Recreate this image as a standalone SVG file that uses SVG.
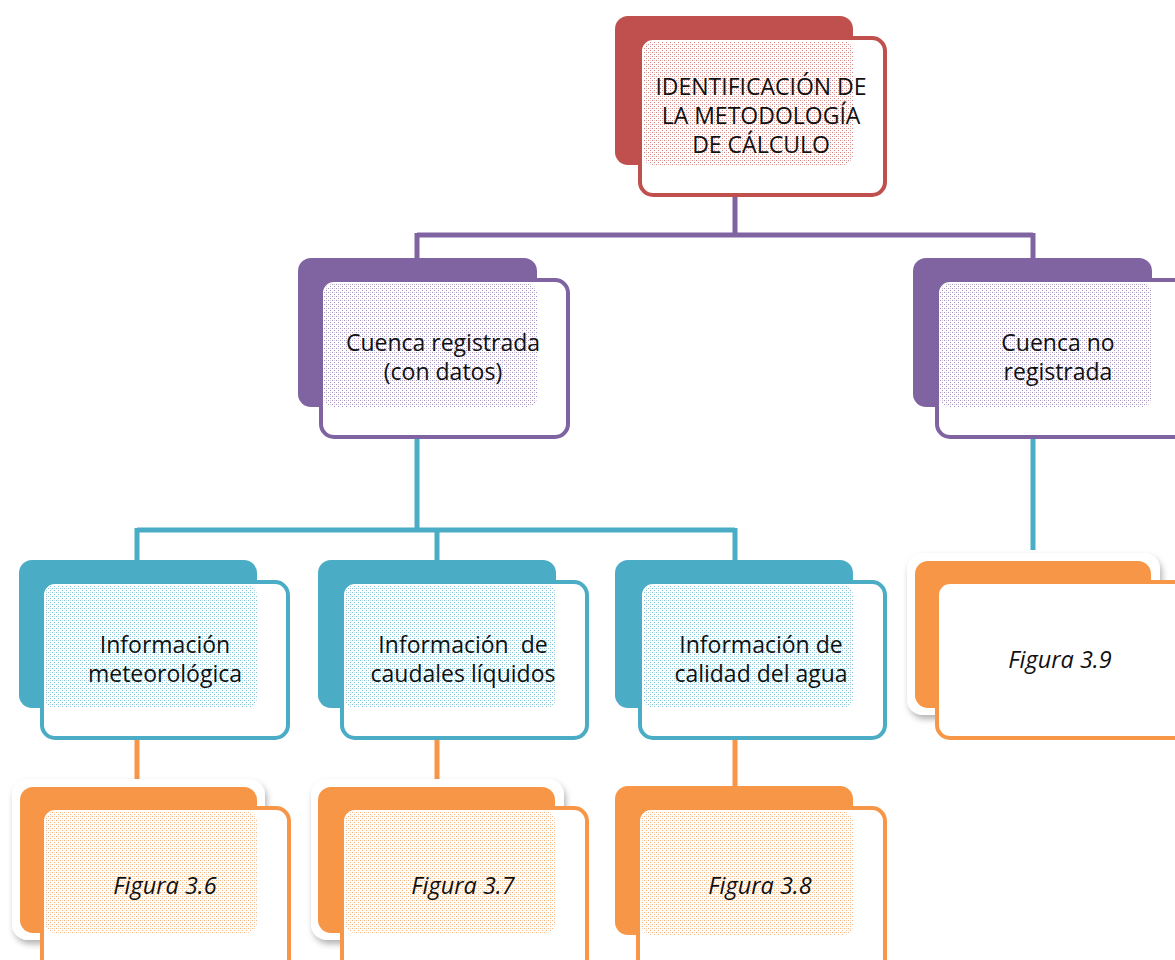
<svg xmlns="http://www.w3.org/2000/svg" width="1175" height="960" viewBox="0 0 1175 960">
<defs>
<style>
.t{font-family:"Open Sans","Liberation Sans",sans-serif;font-size:23px;fill:#111;text-anchor:middle}
.i{font-style:italic;font-size:23.5px}
.front{fill:#fff;stroke-width:4}
.conn{fill:none;stroke-width:5}
.faint{fill:none;stroke-width:3;opacity:0.35;stroke-dasharray:2 2}
</style>
<pattern id="pr" width="4" height="4" patternUnits="userSpaceOnUse"><rect width="4" height="4" fill="#fff"/><rect x="0" y="0" width="1" height="1" fill="#C0504D" opacity="0.7"/><rect x="2" y="2" width="1" height="1" fill="#C0504D" opacity="0.7"/><rect x="2" y="0" width="1" height="1" fill="#C0504D" opacity="0.35"/></pattern>
<pattern id="pp" width="4" height="4" patternUnits="userSpaceOnUse"><rect width="4" height="4" fill="#fff"/><rect x="0" y="0" width="1" height="1" fill="#8064A2" opacity="0.7"/><rect x="2" y="2" width="1" height="1" fill="#8064A2" opacity="0.7"/><rect x="2" y="0" width="1" height="1" fill="#8064A2" opacity="0.35"/></pattern>
<pattern id="pt" width="4" height="4" patternUnits="userSpaceOnUse"><rect width="4" height="4" fill="#fff"/><rect x="0" y="0" width="1" height="1" fill="#4BACC6" opacity="0.7"/><rect x="2" y="2" width="1" height="1" fill="#4BACC6" opacity="0.7"/><rect x="2" y="0" width="1" height="1" fill="#4BACC6" opacity="0.35"/></pattern>
<pattern id="po" width="4" height="4" patternUnits="userSpaceOnUse"><rect width="4" height="4" fill="#fff"/><rect x="0" y="0" width="1" height="1" fill="#F79646" opacity="0.7"/><rect x="2" y="2" width="1" height="1" fill="#F79646" opacity="0.7"/><rect x="2" y="0" width="1" height="1" fill="#F79646" opacity="0.35"/></pattern>
<filter id="sh" x="-10%" y="-10%" width="120%" height="130%"><feDropShadow dx="2" dy="4" stdDeviation="3" flood-color="#000" flood-opacity="0.3"/></filter>
</defs>
<rect width="1175" height="960" fill="#fff"/>

<g id="connectors">
<path class="conn" stroke="#8064A2" d="M735 195V235M417 235H1033M417 233V258M1033 233V258"/>
<path class="conn" stroke="#4BACC6" d="M417 438V530M137 530H735M137 528V560M437 528V560M735 528V560M1033 438V550"/>
<path class="conn" stroke="#F79646" d="M137 738V779M437 738V779M735 738V786"/>
<path class="faint" stroke="#8064A2" d="M735 168V193"/>
<path class="faint" stroke="#4BACC6" d="M417 410V436M1033 410V436"/>
<path class="faint" stroke="#F79646" d="M137 710V736M437 710V736M735 710V736"/>
</g>

<g id="n-top">
<rect x="615" y="16" width="238" height="149" rx="13" fill="#C0504D"/>
<rect class="front" x="640" y="38" width="245" height="157" rx="13" stroke="#C0504D"/>
<rect x="643" y="41" width="210" height="124" rx="10" fill="url(#pr)"/>
<text class="t" x="761" y="95">IDENTIFICACIÓN DE</text>
<text class="t" x="761" y="124">LA METODOLOGÍA</text>
<text class="t" x="761" y="153">DE CÁLCULO</text>
</g>

<g id="n-cuenca-reg">
<rect x="298" y="258" width="239" height="149" rx="13" fill="#8064A2"/>
<rect class="front" x="321" y="280" width="247" height="157" rx="13" stroke="#8064A2"/>
<rect x="324" y="283" width="213" height="124" rx="10" fill="url(#pp)"/>
<text class="t" x="443" y="351">Cuenca registrada</text>
<text class="t" x="443" y="380">(con datos)</text>
</g>

<g id="n-cuenca-noreg">
<rect x="913" y="258" width="239" height="149" rx="13" fill="#8064A2"/>
<rect class="front" x="937" y="280" width="250" height="157" rx="13" stroke="#8064A2"/>
<rect x="940" y="283" width="212" height="124" rx="10" fill="url(#pp)"/>
<text class="t" x="1058" y="351">Cuenca no</text>
<text class="t" x="1058" y="380">registrada</text>
</g>

<g id="n-info-met">
<rect x="19" y="560" width="238" height="148" rx="13" fill="#4BACC6"/>
<rect class="front" x="42" y="582" width="246" height="156" rx="13" stroke="#4BACC6"/>
<rect x="45" y="585" width="212" height="123" rx="10" fill="url(#pt)"/>
<text class="t" x="165" y="653">Información</text>
<text class="t" x="165" y="682">meteorológica</text>
</g>

<g id="n-info-caud">
<rect x="318" y="560" width="238" height="148" rx="13" fill="#4BACC6"/>
<rect class="front" x="342" y="582" width="245" height="156" rx="13" stroke="#4BACC6"/>
<rect x="345" y="585" width="211" height="123" rx="10" fill="url(#pt)"/>
<text class="t" x="463" y="653" xml:space="preserve">Información  de</text>
<text class="t" x="463" y="682">caudales líquidos</text>
</g>

<g id="n-info-cal">
<rect x="615" y="560" width="238" height="148" rx="13" fill="#4BACC6"/>
<rect class="front" x="640" y="582" width="245" height="156" rx="13" stroke="#4BACC6"/>
<rect x="643" y="585" width="210" height="123" rx="10" fill="url(#pt)"/>
<text class="t" x="761" y="653">Información de</text>
<text class="t" x="761" y="682">calidad del agua</text>
</g>

<g id="n-fig39">
<rect x="907" y="553" width="253" height="162" rx="16" fill="#fff" filter="url(#sh)"/>
<rect x="915" y="561" width="236" height="147" rx="13" fill="#F79646"/>
<rect class="front" x="937" y="582" width="250" height="156" rx="13" stroke="#F79646"/>
<text class="t i" x="1060" y="668">Figura 3.9</text>
</g>

<g id="n-fig36">
<rect x="12" y="779" width="253" height="161" rx="16" fill="#fff" filter="url(#sh)"/>
<rect x="20" y="787" width="237" height="146" rx="13" fill="#F79646"/>
<rect class="front" x="42" y="808" width="247" height="170" rx="13" stroke="#F79646"/>
<rect x="45" y="811" width="212" height="122" rx="10" fill="url(#po)"/>
<text class="t i" x="165" y="894">Figura 3.6</text>
</g>

<g id="n-fig37">
<rect x="311" y="779" width="253" height="161" rx="16" fill="#fff" filter="url(#sh)"/>
<rect x="318" y="787" width="237" height="146" rx="13" fill="#F79646"/>
<rect class="front" x="342" y="808" width="245" height="170" rx="13" stroke="#F79646"/>
<rect x="345" y="811" width="210" height="122" rx="10" fill="url(#po)"/>
<text class="t i" x="463" y="894">Figura 3.7</text>
</g>

<g id="n-fig38">
<rect x="615" y="786" width="238" height="149" rx="13" fill="#F79646"/>
<rect class="front" x="638" y="808" width="247" height="170" rx="13" stroke="#F79646"/>
<rect x="641" y="811" width="212" height="124" rx="10" fill="url(#po)"/>
<text class="t i" x="760" y="894">Figura 3.8</text>
</g>
</svg>
